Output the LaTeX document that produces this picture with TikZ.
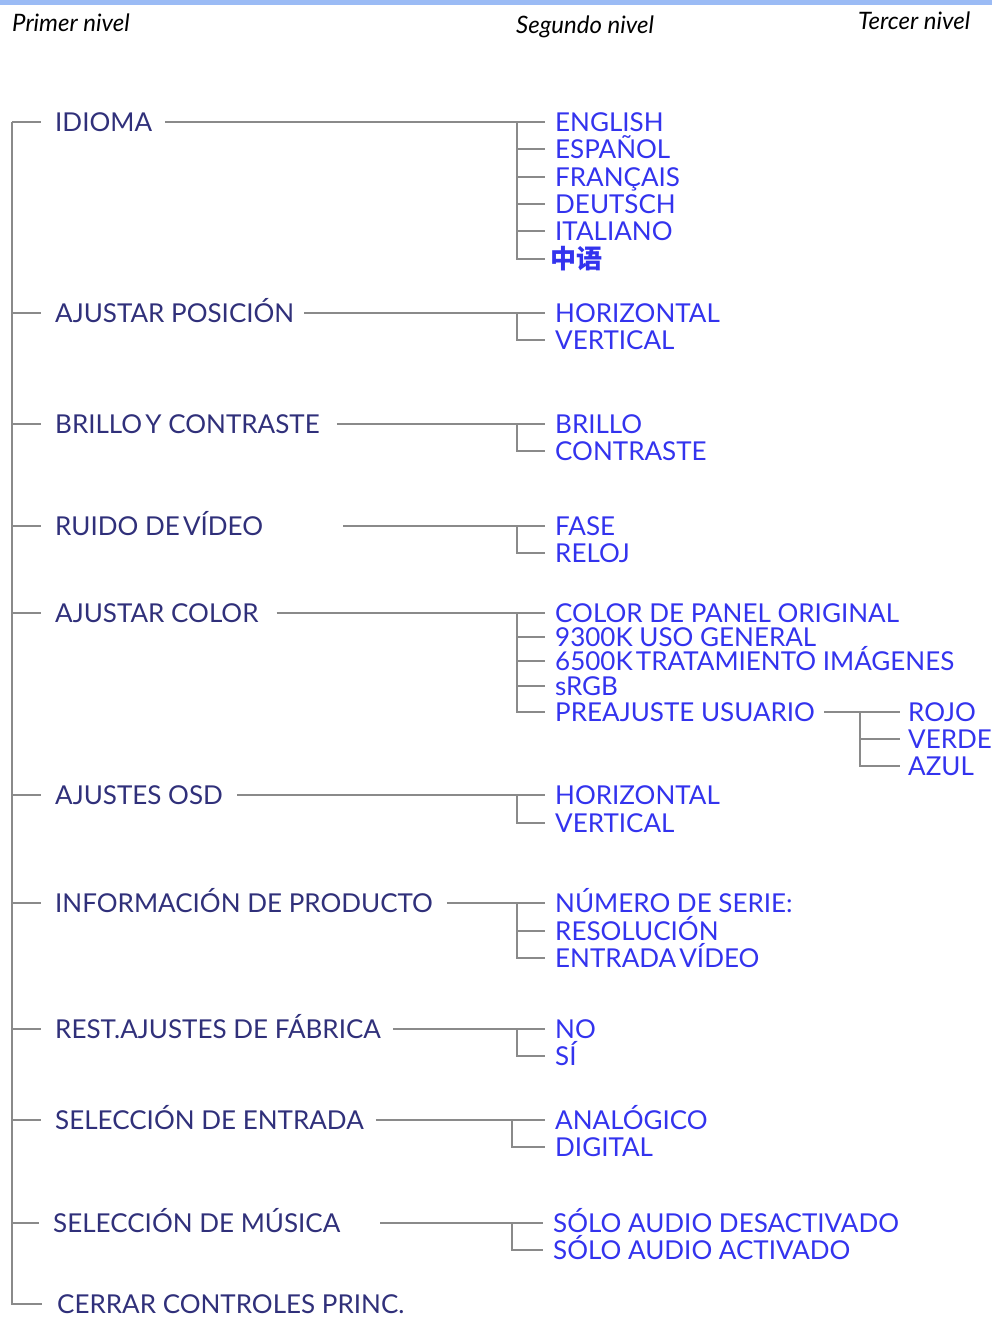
\documentclass[tikz,border=0pt]{standalone}
\usepackage{fontspec}
\setmainfont{Lato}
\newfontfamily\cjkfont{Noto Sans CJK SC}
\definecolor{topbar}{HTML}{9BBBF5}
\definecolor{navy}{HTML}{30307A}
\definecolor{itemblue}{HTML}{3333EE}
\definecolor{linegray}{HTML}{8A8A8A}
\newcommand{\tightsp}{\hspace{-3.5pt}}
\tikzset{
  conn/.style={draw=linegray, line width=2pt},
  lvlone/.style={anchor=west, inner sep=0pt, text=navy, font=\fontsize{26}{26}\selectfont, text height=19pt, text depth=0pt},
  lvltwo/.style={lvlone, text=itemblue},
  hdr/.style={anchor=base west, inner sep=0pt, text=black, font=\fontsize{24}{24}\selectfont\itshape}
}
\begin{document}
\begin{tikzpicture}[x=1pt,y=-1pt]
\useasboundingbox (0,0) rectangle (992,1317);
\fill[topbar] (0,0) rectangle (992,5);
% headers
\node[hdr] (h1) at (12,31) {Primer nivel};
\node[hdr] (h2) at (516,33) {Segundo nivel};
\node[hdr] (h3) at (858,29) {Tercer nivel};
% trunk
\coordinate (trunk) at (12,122);
% level one
\node[lvlone] (a1) at (55,122) {IDIOMA};
\node[lvlone] (a2) at (55,313) {AJUSTAR POSICIÓN};
\node[lvlone] (a3) at (55,424) {BRILLO\tightsp{} Y CONTRASTE};
\node[lvlone] (a4) at (55,526) {RUIDO DE\tightsp{} VÍDEO};
\node[lvlone] (a5) at (55,613) {AJUSTAR COLOR};
\node[lvlone] (a6) at (55,795) {AJUSTES OSD};
\node[lvlone] (a7) at (55,903) {INFORMACIÓN DE PRODUCTO};
\node[lvlone] (a8) at (55,1029) {REST.AJUSTES DE FÁBRICA};
\node[lvlone] (a9) at (55,1120) {SELECCIÓN DE ENTRADA};
\node[lvlone] (a10) at (53,1223) {SELECCIÓN DE MÚSICA};
\node[lvlone] (a11) at (57,1304) {CERRAR CONTROLES PRINC.};
% trunk connectors
\draw[conn] (trunk) -- (trunk |- a11.west) -- ([xshift=-15pt]a11.west);
\foreach \n in {a1,a2,a3,a4,a5,a6,a7,a8,a9,a10}
  \draw[conn] (trunk |- \n.west) -- ([xshift=-14pt]\n.west);
% level two
\node[lvltwo] (b11) at (555,122) {ENGLISH};
\node[lvltwo] (b12) at (555,149) {ESPAÑOL};
\node[lvltwo] (b13) at (555,177) {FRANÇAIS};
\node[lvltwo] (b14) at (555,204) {DEUTSCH};
\node[lvltwo] (b15) at (555,231) {ITALIANO};
\node[lvltwo, font=\cjkfont\bfseries\fontsize{26}{26}\selectfont] (b16) at (550,259) {中语};
\node[lvltwo] (b21) at (555,313) {HORIZONTAL};
\node[lvltwo] (b22) at (555,340) {VERTICAL};
\node[lvltwo] (b31) at (555,424) {BRILLO};
\node[lvltwo] (b32) at (555,451) {CONTRASTE};
\node[lvltwo] (b41) at (555,526) {FASE};
\node[lvltwo] (b42) at (555,553) {RELOJ};
\node[lvltwo] (b51) at (555,613) {COLOR DE PANEL ORIGINAL};
\node[lvltwo] (b52) at (555,637) {9300K USO GENERAL};
\node[lvltwo] (b53) at (555,661) {6500K\tightsp{} TRATAMIENTO IMÁGENES};
\node[lvltwo] (b54) at (555,686) {sRGB};
\node[lvltwo] (b55) at (555,712) {PREAJUSTE USUARIO};
\node[lvltwo] (b61) at (555,795) {HORIZONTAL};
\node[lvltwo] (b62) at (555,823) {VERTICAL};
\node[lvltwo] (b71) at (555,903) {NÚMERO DE SERIE:};
\node[lvltwo] (b72) at (555,931) {RESOLUCIÓN};
\node[lvltwo] (b73) at (555,958) {ENTRADA\tightsp{} VÍDEO};
\node[lvltwo] (b81) at (555,1029) {NO};
\node[lvltwo] (b82) at (555,1056) {SÍ};
\node[lvltwo] (b91) at (555,1120) {ANALÓGICO};
\node[lvltwo] (b92) at (555,1147) {DIGITAL};
\node[lvltwo] (b101) at (553,1223) {SÓLO AUDIO DESACTIVADO};
\node[lvltwo] (b102) at (553,1250) {SÓLO AUDIO ACTIVADO};
% level three
\node[lvltwo] (c1) at (908,712) {ROJO};
\node[lvltwo] (c2) at (908,739) {VERDE};
\node[lvltwo] (c3) at (908,766) {AZUL};
% start points of the long connectors
\coordinate (s1) at ([xshift=13pt]a1.east);
\coordinate (s2) at ([xshift=10pt]a2.east);
\coordinate (s3) at ([xshift=17pt]a3.east);
\coordinate (s4) at (343,526);
\coordinate (s5) at ([xshift=18pt]a5.east);
\coordinate (s6) at ([xshift=14pt]a6.east);
\coordinate (s7) at ([xshift=14pt]a7.east);
\coordinate (s8) at ([xshift=12pt]a8.east);
\coordinate (s9) at ([xshift=12pt]a9.east);
\coordinate (s10) at (380,1223);
\coordinate (s55) at ([xshift=9pt]b55.east);
% junctions
\coordinate (j1) at (517,122);
\coordinate (j2) at (517,313);
\coordinate (j3) at (517,424);
\coordinate (j4) at (517,526);
\coordinate (j5) at (517,613);
\coordinate (j6) at (517,795);
\coordinate (j7) at (517,903);
\coordinate (j8) at (517,1029);
\coordinate (j9) at (512,1120);
\coordinate (j10) at (512,1223);
\coordinate (j55) at (860,712);
% connectors level one -> level two
\draw[conn] (s1) -- ([xshift=-10pt]b11.west);
\draw[conn] (j1) |- ([xshift=-5pt]b16.west);
\foreach \c in {b12,b13,b14,b15} \draw[conn] (j1 |- \c.west) -- ([xshift=-10pt]\c.west);
\draw[conn] (s2) -- ([xshift=-10pt]b21.west);
\draw[conn] (j2) |- ([xshift=-10pt]b22.west);
\draw[conn] (s3) -- ([xshift=-10pt]b31.west);
\draw[conn] (j3) |- ([xshift=-10pt]b32.west);
\draw[conn] (s4) -- ([xshift=-10pt]b41.west);
\draw[conn] (j4) |- ([xshift=-10pt]b42.west);
\draw[conn] (s5) -- ([xshift=-10pt]b51.west);
\draw[conn] (j5) |- ([xshift=-10pt]b55.west);
\foreach \c in {b52,b53,b54} \draw[conn] (j5 |- \c.west) -- ([xshift=-10pt]\c.west);
\draw[conn] (s6) -- ([xshift=-10pt]b61.west);
\draw[conn] (j6) |- ([xshift=-10pt]b62.west);
\draw[conn] (s7) -- ([xshift=-10pt]b71.west);
\draw[conn] (j7) |- ([xshift=-10pt]b73.west);
\draw[conn] (j7 |- b72.west) -- ([xshift=-10pt]b72.west);
\draw[conn] (s8) -- ([xshift=-10pt]b81.west);
\draw[conn] (j8) |- ([xshift=-10pt]b82.west);
\draw[conn] (s9) -- ([xshift=-10pt]b91.west);
\draw[conn] (j9) |- ([xshift=-10pt]b92.west);
\draw[conn] (s10) -- ([xshift=-10pt]b101.west);
\draw[conn] (j10) |- ([xshift=-10pt]b102.west);
% level two -> level three
\draw[conn] (s55) -- ([xshift=-8pt]c1.west);
\draw[conn] (j55) |- ([xshift=-8pt]c3.west);
\draw[conn] (j55 |- c2.west) -- ([xshift=-8pt]c2.west);
\end{tikzpicture}
\end{document}
